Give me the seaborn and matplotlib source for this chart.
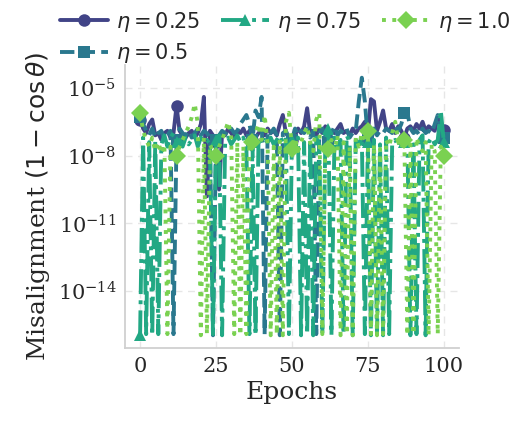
import numpy as np
import pandas as pd
import matplotlib
matplotlib.use("Agg")
import matplotlib.pyplot as plt
import seaborn as sns

# Training epochs and per-epoch misalignment, stored as log10(1 - cos theta)
epochs = list(range(101))

log_mis_025 = [
    -6.4, -6.8, -7.0, -6.6, -6.4, -7.1, -7.0, -7.3, -7.0, -6.9,
    -7.2, -7.0, -5.8, -6.9, -7.1, -7.2, -7.0, -6.9, -7.2, -7.0,
    -6.6, -5.4, -9.8, -6.9, -7.1, -7.4, -9.5, -7.0, -7.1, -6.8,
    -7.0, -7.2, -6.9, -7.0, -6.8, -7.1, -6.9, -7.3, -7.2, -7.0,
    -6.9, -7.1, -6.8, -7.0, -6.9, -7.1, -6.6, -6.2, -7.0, -7.2,
    -7.3, -7.1, -6.8, -7.0, -6.7, -5.9, -7.0, -6.9, -7.1, -6.8,
    -7.0, -6.7, -7.3, -6.9, -7.0, -6.8, -6.6, -7.0, -6.9, -7.1,
    -6.8, -7.0, -6.8, -6.7, -6.5, -7.0, -5.5, -5.6, -6.9, -6.5,
    -6.0, -6.8, -6.9, -6.6, -7.0, -6.7, -6.9, -7.2, -6.8, -6.7,
    -6.9, -6.6, -6.8, -6.5, -6.9, -6.7, -6.8, -6.9, -6.3, -6.6,
    -6.85,
]

log_mis_050 = [
    -6.3, -6.6, -6.9, -7.1, -6.8, -7.2, -7.0, -6.9, -7.3, -7.1,
    -6.9, -15.9, -7.3, -6.8, -7.0, -7.1, -6.9, -7.2, -7.0, -6.8,
    -7.1, -6.9, -7.0, -7.2, -15.95, -7.3, -7.1, -6.9, -7.0, -7.1,
    -6.8, -7.0, -6.9, -6.6, -6.4, -6.2, -6.6, -7.3, -6.0, -6.3,
    -5.4, -15.9, -6.9, -7.0, -6.8, -7.1, -15.95, -7.0, -6.9, -7.2,
    -7.3, -6.8, -7.1, -6.9, -7.0, -6.8, -7.2, -6.9, -15.9, -7.0,
    -6.8, -7.1, -7.4, -7.0, -6.7, -7.1, -6.9, -7.0, -6.8, -7.2,
    -7.0, -6.9, -5.6, -4.55, -5.6, -7.3, -7.0, -6.8, -7.1, -6.9,
    -7.0, -6.8, -6.9, -7.0, -6.7, -6.9, -6.6, -6.1, -6.1, -6.8,
    -7.0, -6.9, -7.1, -6.8, -7.0, -6.9, -7.0, -6.6, -6.2, -6.9,
    -7.2,
]

log_mis_075 = [
    -15.95, -7.2, -15.9, -7.4, -15.95, -7.3, -15.9, -7.5, -7.1, -7.6,
    -7.2, -7.0, -7.4, -7.3, -7.6, -7.2, -7.5, -7.3, -7.1, -7.6,
    -7.2, -7.4, -7.3, -7.5, -15.9, -7.3, -7.1, -15.95, -7.4, -7.2,
    -7.5, -7.3, -7.1, -7.4, -7.2, -7.6, -15.9, -7.4, -15.95, -7.2,
    -7.5, -7.3, -7.4, -7.2, -7.5, -7.3, -7.1, -7.4, -7.2, -15.9,
    -7.3, -7.5, -7.2, -15.95, -7.4, -15.9, -7.3, -15.95, -7.2, -7.5,
    -15.9, -7.3, -6.8, -15.95, -7.2, -7.6, -7.3, -15.9, -7.1, -7.4,
    -15.95, -7.3, -7.5, -7.2, -15.9, -7.4, -15.95, -7.3, -15.9, -7.5,
    -15.95, -7.2, -15.9, -7.4, -7.3, -7.6, -7.2, -7.4, -7.3, -15.95,
    -7.5, -15.9, -7.3, -7.1, -15.95, -7.4, -7.2, -7.5, -7.3, -6.0,
    -7.4,
]

log_mis_100 = [
    -6.1, -6.9, -7.3, -7.6, -7.2, -7.8, -7.4, -7.9, -7.5, -15.9,
    -7.6, -7.8, -8.0, -7.6, -7.3, -7.0, -6.7, -6.3, -5.7, -6.6,
    -15.95, -7.2, -15.9, -7.5, -7.8, -8.0, -7.6, -7.3, -6.9, -6.5,
    -7.1, -15.9, -7.4, -15.95, -7.6, -15.9, -7.2, -7.4, -7.0, -6.6,
    -7.3, -6.2, -7.5, -15.95, -7.6, -15.9, -7.3, -15.95, -6.5, -6.1,
    -7.7, -7.2, -7.8, -7.4, -7.0, -6.7, -7.4, -7.8, -6.4, -6.1,
    -15.9, -7.5, -7.7, -7.3, -7.8, -7.1, -15.95, -7.4, -15.9, -7.6,
    -15.95, -7.2, -7.6, -7.0, -7.3, -6.9, -15.9, -7.5, -15.95, -7.7,
    -15.9, -7.3, -7.6, -7.0, -6.5, -7.4, -7.7, -7.3, -15.95, -7.5,
    -15.9, -7.2, -7.6, -7.8, -7.4, -15.95, -7.5, -7.8, -15.9, -7.6,
    -8.0,
]

etas = [0.25, 0.5, 0.75, 1.0]
series = [log_mis_025, log_mis_050, log_mis_075, log_mis_100]
markers = ["o", "s", "^", "D"]
marker_sizes = [9, 9, 9, 9.5]
linestyles = ["-", "--", "-.", ":"]
mark_at = [0, 12, 25, 37, 50, 62, 75, 87, 100]

frames = []
for eta, vals in zip(etas, series):
    frames.append(pd.DataFrame({
        "epoch": epochs,
        "misalignment": 10.0 ** np.array(vals),
        "eta": eta,
    }))
df = pd.concat(frames, ignore_index=True)

sns.set_theme(style="whitegrid")
plt.rcParams["font.family"] = ["DejaVu Serif"]
plt.rcParams["mathtext.fontset"] = "dejavusans"

palette = sns.color_palette("viridis", len(etas))

fig = plt.figure(figsize=(5.27, 4.21), dpi=100)
ax = fig.add_axes([0.237, 0.173, 0.634, 0.673])

for i, eta in enumerate(etas):
    sub = df[df["eta"] == eta]
    sns.lineplot(
        data=sub, x="epoch", y="misalignment", ax=ax,
        color=palette[i], linestyle=linestyles[i], linewidth=2.8,
        marker=markers[i], markersize=marker_sizes[i],
        markevery=mark_at, markeredgewidth=0,
        label=rf"$\eta = {eta}$", estimator=None, sort=False,
    )

ax.set_yscale("log")
ax.set_yticks([1e-14, 1e-11, 1e-8, 1e-5])
ax.minorticks_off()
ax.set_xticks([0, 25, 50, 75, 100])
ax.tick_params(axis="both", labelsize=15, length=0, pad=6)
ax.set_xlabel("Epochs", fontsize=18)
ax.set_ylabel(r"Misalignment $(1 - \cos\theta)$", fontsize=18)
ax.grid(True, which="major", linestyle=(0, (5, 4)), color="#e6e6e6", linewidth=1.0)
sns.despine(ax=ax)
for s in ("left", "bottom"):
    ax.spines[s].set_linewidth(1.3)
    ax.spines[s].set_color("#d0d0d0")

ax.legend(
    loc="lower left", bbox_to_anchor=(-0.22, 0.97), ncol=3, frameon=False,
    fontsize=15, handlelength=2.3, handletextpad=0.4, columnspacing=1.0,
    borderaxespad=0.0, labelspacing=0.35,
)

fig.savefig("out.png", dpi=100)
